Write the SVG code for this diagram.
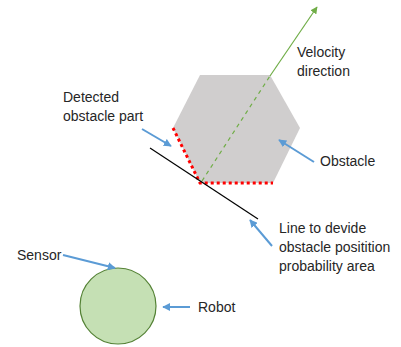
<svg xmlns="http://www.w3.org/2000/svg" width="401" height="347" viewBox="0 0 401 347">
  <style>
    .lbl { font-family: "Liberation Sans", Arial, sans-serif; font-size: 14px; fill: #262626; }
    .callout { stroke: #5b9bd5; stroke-width: 2; fill: none; marker-end: url(#blueHead); }
  </style>
  <defs>
    <marker id="blueHead" viewBox="0 0 10 10" refX="9" refY="5" markerWidth="4" markerHeight="4" orient="auto">
      <path d="M0,0 L10,5 L0,10 Z" fill="#5b9bd5"/>
    </marker>
    <marker id="greenHead" viewBox="0 0 10 10" refX="9" refY="5" markerWidth="6" markerHeight="6" orient="auto">
      <path d="M0,0 L10,5 L0,10 Z" fill="#70ad47"/>
    </marker>
  </defs>
  <rect width="401" height="347" fill="#ffffff"/>

  <!-- obstacle -->
  <g id="obstacle">
    <polygon points="200,75 270,75 300,128 273,183 200,183 173,128" fill="#d0cece"/>
    <polyline points="173,128 200,183 273,183" fill="none" stroke="#ff0000" stroke-width="3" stroke-dasharray="3,3"/>
  </g>

  <!-- robot -->
  <g id="robot">
    <circle cx="118" cy="306" r="38" fill="#c5e0b4" stroke="#548235" stroke-width="1.2"/>
  </g>

  <g id="connectors">
    <!-- velocity direction -->
    <line x1="202" y1="181" x2="270" y2="76" stroke="#70ad47" stroke-width="1.2" stroke-dasharray="4,4"/>
    <line x1="270" y1="76" x2="317" y2="7" stroke="#70ad47" stroke-width="1.2" marker-end="url(#greenHead)"/>
    <!-- dividing line -->
    <line x1="150" y1="148" x2="258" y2="219" stroke="#000000" stroke-width="1.2"/>
    <!-- callouts -->
    <line class="callout" x1="142" y1="129" x2="171" y2="146"/>
    <line class="callout" x1="314" y1="162" x2="279" y2="140"/>
    <line class="callout" x1="272" y1="246" x2="250" y2="220"/>
    <line class="callout" x1="63" y1="255" x2="115" y2="268"/>
    <line class="callout" x1="190" y1="307" x2="163" y2="307"/>
  </g>

  <g id="labels">
    <text class="lbl" x="297" y="57">Velocity</text>
    <text class="lbl" x="297" y="76">direction</text>
    <text class="lbl" x="63" y="102">Detected</text>
    <text class="lbl" x="63" y="121">obstacle part</text>
    <text class="lbl" x="320" y="166">Obstacle</text>
    <text class="lbl" x="279" y="233">Line to devide</text>
    <text class="lbl" x="279" y="252">obstacle positition</text>
    <text class="lbl" x="279" y="271">probability area</text>
    <text class="lbl" x="17" y="260">Sensor</text>
    <text class="lbl" x="198" y="312">Robot</text>
  </g>
</svg>
